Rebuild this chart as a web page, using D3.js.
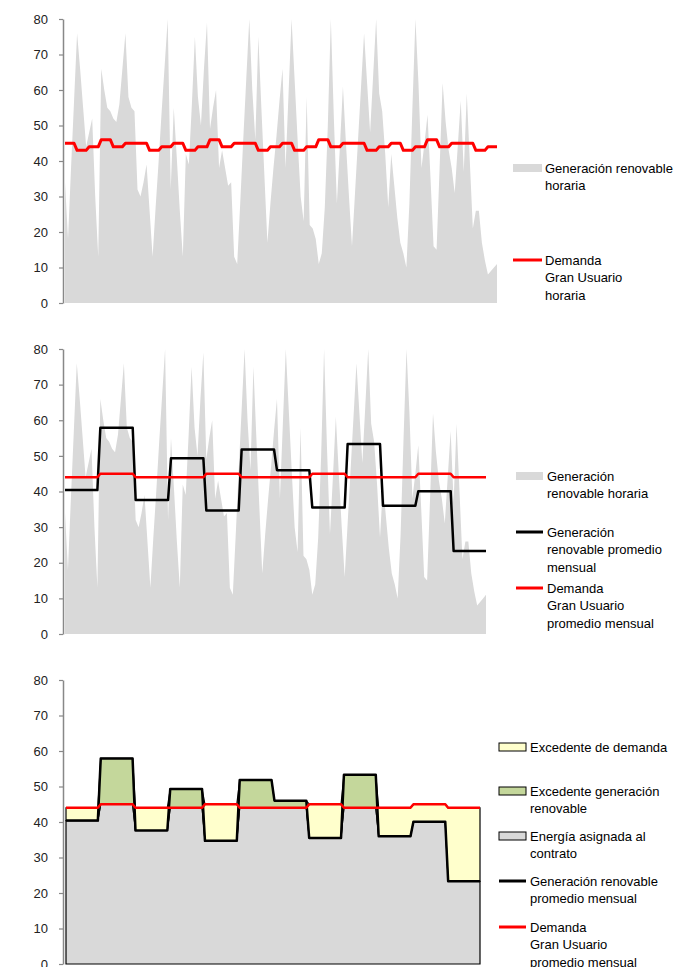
<!DOCTYPE html>
<html lang="es">
<head>
<meta charset="UTF-8">
<script src="https://d3js.org/d3.v7.min.js"></script>
<title>Generación renovable vs demanda</title>
<style>
  body { margin: 0; background: #fff; }
  svg { display: block; font-family: "Liberation Sans", Arial, sans-serif; }
</style>
</head>
<body>
<div id="chart"></div>
<script>
// hourly renewable generation (12 representative hours per month)
const genHourly = [
  34, 18, 38, 57, 76, 66, 55, 44, 48, 52, 30, 13,
  66, 60, 55, 54, 52, 51, 56, 66, 76, 58, 55, 54,
  32, 30, 34, 39, 26, 13, 27, 40, 54, 67, 80, 32,
  55, 41, 26, 13, 42, 39, 56, 75, 58, 50, 66, 79,
  49, 55, 60, 38, 43, 38, 33, 34, 13, 11, 28, 46,
  63, 80, 60, 46, 75, 55, 36, 17, 28, 38, 47, 57,
  66, 38, 59, 80, 63, 46, 30, 23, 58, 22, 21, 18,
  11, 14, 27, 50, 80, 52, 28, 44, 61, 45, 30, 16,
  31, 46, 61, 76, 62, 48, 64, 80, 59, 54, 42, 27,
  42, 33, 24, 17, 14, 10, 28, 55, 80, 62, 38, 45,
  53, 35, 16, 15, 38, 62, 51, 43, 38, 31, 44, 57,
  37, 59, 40, 21, 26, 26, 17, 12, 8, 9, 10, 11
];

// hourly demand of the large user
const demandHourly = [
  45, 45, 45, 45, 43, 43, 43, 43, 44, 44, 44, 44,
  46, 46, 46, 46, 44, 44, 44, 44, 45, 45, 45, 45,
  45, 45, 45, 45, 43, 43, 43, 43, 44, 44, 44, 44,
  45, 45, 45, 45, 43, 43, 43, 43, 44, 44, 44, 44,
  46, 46, 46, 46, 44, 44, 44, 44, 45, 45, 45, 45,
  45, 45, 45, 45, 43, 43, 43, 43, 44, 44, 44, 44,
  45, 45, 45, 45, 43, 43, 43, 43, 44, 44, 44, 44,
  46, 46, 46, 46, 44, 44, 44, 44, 45, 45, 45, 45,
  45, 45, 45, 45, 43, 43, 43, 43, 44, 44, 44, 44,
  45, 45, 45, 45, 43, 43, 43, 43, 44, 44, 44, 44,
  46, 46, 46, 46, 44, 44, 44, 44, 45, 45, 45, 45,
  45, 45, 45, 45, 43, 43, 43, 43, 44, 44, 44, 44
];

const months = ["Ene", "Feb", "Mar", "Abr", "May", "Jun", "Jul", "Ago", "Sep", "Oct", "Nov", "Dic"];
const genMonthly = [40.4, 57.9, 37.6, 49.3, 34.7, 51.8, 46.0, 35.5, 53.3, 36.0, 40.1, 23.3];
const demandMonthly = [44, 45, 44, 44, 45, 44, 44, 45, 44, 44, 45, 44];
const hoursPerMonth = 12;

const yTicks = [0, 10, 20, 30, 40, 50, 60, 70, 80];

const legendTop = [
  {type: "box", color: "#d9d9d9", lines: ["Generación renovable", "horaria"]},
  {type: "line", color: "#ff0000", lines: ["Demanda", "Gran Usuario", "horaria"]}
];
const legendMid = [
  {type: "box", color: "#d9d9d9", lines: ["Generación", "renovable horaria"]},
  {type: "line", color: "#000000", lines: ["Generación", "renovable promedio", "mensual"]},
  {type: "line", color: "#ff0000", lines: ["Demanda", "Gran Usuario", "promedio mensual"]}
];
const legendBot = [
  {type: "box", color: "#ffffcc", border: true, lines: ["Excedente de demanda"]},
  {type: "box", color: "#c4d79b", border: true, lines: ["Excedente generación", "renovable"]},
  {type: "box", color: "#d9d9d9", border: true, lines: ["Energía asignada al", "contrato"]},
  {type: "line", color: "#000000", lines: ["Generación renovable", "promedio mensual"]},
  {type: "line", color: "#ff0000", lines: ["Demanda", "Gran Usuario", "promedio mensual"]}
];

const hours = d3.range(genHourly.length);
const monthOf = i => Math.floor(i / hoursPerMonth);
const genMonthHours = hours.map(i => genMonthly[monthOf(i)]);
const demMonthHours = hours.map(i => demandMonthly[monthOf(i)]);

const W = 675, H = 967;
const svg = d3.select("#chart").append("svg").attr("width", W).attr("height", H);

function makeScales(left, right, top, bottom) {
  return {
    x: d3.scaleLinear().domain([0, hours.length - 1]).range([left, right]),
    y: d3.scaleLinear().domain([0, 80]).range([bottom, top])
  };
}

function drawAxis(y) {
  const ax = svg.append("g").attr("transform", "translate(63,0)")
    .call(d3.axisLeft(y).tickValues(yTicks).tickSize(4).tickSizeOuter(0).tickPadding(11));
  ax.select(".domain").attr("stroke", "#888").attr("stroke-width", 1.5);
  ax.selectAll(".tick line").attr("stroke", "#888").attr("stroke-width", 1.2);
  ax.selectAll(".tick text").attr("fill", "#222").attr("font-size", 13)
    .attr("font-family", "Liberation Sans, Arial, sans-serif");
}

function drawLine(s, values, color, width) {
  svg.append("path")
    .datum(hours)
    .attr("fill", "none")
    .attr("stroke", color)
    .attr("stroke-width", width)
    .attr("stroke-linejoin", "round")
    .attr("d", d3.line().x(i => s.x(i)).y(i => s.y(values[i])));
}

function drawLegend(items, symX, textX, ys) {
  items.forEach((it, k) => {
    const cy = ys[k];
    if (it.type === "box") {
      svg.append("rect")
        .attr("x", symX[0]).attr("y", cy - 4)
        .attr("width", symX[1] - symX[0]).attr("height", 8)
        .attr("fill", it.color)
        .attr("stroke", it.border ? "#000" : "none")
        .attr("stroke-width", 1);
    } else {
      svg.append("line")
        .attr("x1", symX[0]).attr("x2", symX[1])
        .attr("y1", cy).attr("y2", cy)
        .attr("stroke", it.color).attr("stroke-width", 3);
    }
    const t = svg.append("text").attr("font-size", 13).attr("fill", "#000");
    it.lines.forEach((ln, j) => {
      t.append("tspan").attr("x", textX).attr("y", cy + 4.5 + j * 17.5).text(ln);
    });
  });
}

// ---------- top chart: hourly ----------
const s1 = makeScales(65, 497, 19, 303);
svg.append("path")
  .datum(hours)
  .attr("fill", "#d9d9d9")
  .attr("d", d3.area().x(i => s1.x(i)).y0(s1.y(0)).y1(i => s1.y(genHourly[i])));
drawLine(s1, demandHourly, "#ff0000", 3);
drawAxis(s1.y);
drawLegend(legendTop, [513, 542], 545, [168, 260]);

// ---------- middle chart: hourly + monthly averages ----------
const s2 = makeScales(65, 486, 349, 634);
svg.append("path")
  .datum(hours)
  .attr("fill", "#d9d9d9")
  .attr("d", d3.area().x(i => s2.x(i)).y0(s2.y(0)).y1(i => s2.y(genHourly[i])));
drawLine(s2, genMonthHours, "#000000", 2.5);
drawLine(s2, demMonthHours, "#ff0000", 2.5);
drawAxis(s2.y);
drawLegend(legendMid, [516, 543], 547, [476, 532, 588]);

// ---------- bottom chart: contract allocation ----------
const s3 = makeScales(66, 480, 680, 964);
const stackRows = hours.map(i => {
  const g = genMonthHours[i], d = demMonthHours[i];
  return {
    asignada: Math.min(g, d),
    excDemanda: Math.max(d - g, 0),
    excGeneracion: Math.max(g - d, 0)
  };
});
const stacked = d3.stack().keys(["asignada", "excDemanda", "excGeneracion"])(stackRows);
const fills = {asignada: "#d9d9d9", excDemanda: "#ffffcc", excGeneracion: "#c4d79b"};
const areaB = d3.area()
  .x((d, i) => s3.x(i))
  .y0(d => s3.y(d[0]))
  .y1(d => s3.y(d[1]));
svg.append("g").selectAll("path")
  .data(stacked)
  .join("path")
  .attr("fill", d => fills[d.key])
  .attr("stroke", "#000")
  .attr("stroke-width", 1.2)
  .attr("d", areaB);
drawLine(s3, genMonthHours, "#000000", 2.5);
drawLine(s3, demMonthHours, "#ff0000", 2.5);
drawAxis(s3.y);
drawLegend(legendBot, [499, 526], 530, [747, 791, 836, 881, 927]);
</script>
</body>
</html>
